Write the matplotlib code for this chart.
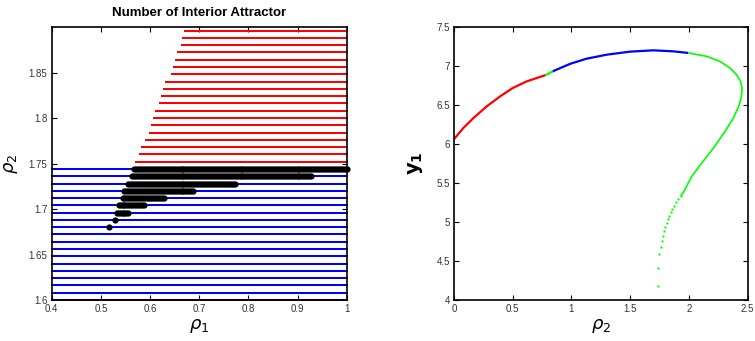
import numpy as np
import matplotlib
matplotlib.use("Agg")
import matplotlib.pyplot as plt

# ---------------- data: left panel (parameter sweep grid) ----------------
rho1_step = 0.004
rho1_min, rho1_max = 0.4, 1.0
# rows of rho2 (blue region: single interior attractor)
blue_rows = [1.600, 1.608, 1.616, 1.624, 1.632, 1.640, 1.648, 1.656, 1.664, 1.672,
             1.680, 1.688, 1.696, 1.704, 1.712, 1.720, 1.728, 1.736, 1.744]
# red region rows and their left boundary in rho1
red_rows = [1.752, 1.760, 1.768, 1.776, 1.784, 1.792, 1.800, 1.808, 1.816, 1.824,
            1.832, 1.840, 1.848, 1.856, 1.864, 1.872, 1.880, 1.888, 1.896]
red_start = [0.572, 0.580, 0.584, 0.592, 0.600, 0.604, 0.608, 0.612, 0.620, 0.624,
             0.628, 0.632, 0.644, 0.648, 0.652, 0.656, 0.664, 0.668, 0.672]
# black region rows (two attractors) with rho1 extents
black_rows = [1.680, 1.688, 1.696, 1.704, 1.712, 1.720, 1.728, 1.736, 1.744]
black_start = [0.516, 0.528, 0.532, 0.536, 0.544, 0.548, 0.556, 0.564, 0.568]
black_end = [0.516, 0.528, 0.556, 0.588, 0.628, 0.688, 0.772, 0.928, 1.000]

# ---------------- data: right panel (bifurcation curve) ----------------
red_x = [0.000, 0.079, 0.165, 0.278, 0.392, 0.499, 0.619, 0.780]
red_y = [6.062, 6.204, 6.332, 6.482, 6.610, 6.717, 6.803, 6.884]
green1_x = [0.780, 0.840]
green1_y = [6.884, 6.931]
blue_x = [0.840, 0.917, 0.993, 1.129, 1.300, 1.498, 1.697, 1.867, 1.995]
blue_y = [6.931, 6.982, 7.030, 7.094, 7.145, 7.184, 7.201, 7.188, 7.167]
green2_x = [1.995, 2.151, 2.264, 2.350, 2.406, 2.440, 2.452, 2.449, 2.429,
            2.378, 2.307, 2.208, 2.108, 2.023, 1.952, 1.930]
green2_y = [7.167, 7.124, 7.059, 6.974, 6.888, 6.803, 6.717, 6.632, 6.503,
            6.332, 6.161, 5.947, 5.754, 5.583, 5.378, 5.335]
green_dots_x = [1.930, 1.910, 1.890, 1.873, 1.859, 1.845, 1.833, 1.822, 1.810,
                1.796, 1.788, 1.776, 1.768, 1.759, 1.748, 1.740, 1.740]
green_dots_y = [5.335, 5.297, 5.254, 5.211, 5.168, 5.125, 5.083, 5.040, 4.993,
                4.941, 4.890, 4.826, 4.762, 4.685, 4.586, 4.415, 4.180]

left_xticks = [0.4, 0.5, 0.6, 0.7, 0.8, 0.9, 1.0]
left_xticklabels = ["0.4", "0.5", "0.6", "0.7", "0.8", "0.9", "1"]
left_yticks = [1.6, 1.65, 1.7, 1.75, 1.8, 1.85]
left_yticklabels = ["1.6", "1.65", "1.7", "1.75", "1.8", "1.85"]
right_xticks = [0, 0.5, 1, 1.5, 2, 2.5]
right_xticklabels = ["0", "0.5", "1", "1.5", "2", "2.5"]
right_yticks = [4, 4.5, 5, 5.5, 6, 6.5, 7, 7.5]
right_yticklabels = ["4", "4.5", "5", "5.5", "6", "6.5", "7", "7.5"]

tick_font = ["Liberation Sans", "DejaVu Sans"]

fig = plt.figure(figsize=(7.55, 3.41), dpi=100)
ax1 = fig.add_axes([0.0685, 0.1202, 0.3907, 0.8006])
ax2 = fig.add_axes([0.6013, 0.1202, 0.3890, 0.8006])


def style(ax):
    for s in ax.spines.values():
        s.set_linewidth(1.2)
        s.set_color("black")
    ax.tick_params(direction="in", length=3.5, width=0.8, top=True, right=True,
                   labelsize=7, pad=3, colors="black")
    for lbl in ax.get_xticklabels() + ax.get_yticklabels():
        lbl.set_family(tick_font)
        lbl.set_color("#333333")


grid_x = np.arange(rho1_min, rho1_max + 1e-9, rho1_step)


def grid_row(xs, y, color):
    ax1.scatter(xs, np.full_like(xs, y), s=0.8, marker="s", c=color,
                linewidths=0, zorder=2, clip_on=False)


# blue rows
for r in blue_rows:
    grid_row(grid_x, r, "#0000ff")
# red rows
for r, st in zip(red_rows, red_start):
    grid_row(grid_x[grid_x >= st - 1e-9], r, "#ff0000")
# black rows
for r, st, en in zip(black_rows, black_start, black_end):
    xs = grid_x[(grid_x >= st - 1e-9) & (grid_x <= en + 1e-9)]
    if len(xs) == 0:
        xs = np.array([st])
    ax1.scatter(xs, np.full_like(xs, r), s=20, marker="o", c="black",
                linewidths=0, zorder=3, clip_on=False)

ax1.set_xlim(0.4, 1.0)
ax1.set_ylim(1.6, 1.9)
ax1.set_xticks(left_xticks)
ax1.set_xticklabels(left_xticklabels)
ax1.set_yticks(left_yticks)
ax1.set_yticklabels(left_yticklabels)
style(ax1)
ax1.set_title("Number of Interior Attractor", fontsize=9.5, fontweight="bold",
              family=["Liberation Sans Narrow", "Liberation Sans", "DejaVu Sans"],
              pad=8)
ax1.set_xlabel(r"$\rho_1$", fontsize=13, labelpad=2)
ax1.set_ylabel(r"$\rho_2$", fontsize=13, labelpad=6)

# right panel
ax2.plot(red_x, red_y, color="#ff0000", lw=1.6, solid_capstyle="butt")
ax2.plot(green1_x, green1_y, color="#00ff00", lw=1.6, solid_capstyle="butt")
ax2.plot(blue_x, blue_y, color="#0000ff", lw=1.6, solid_capstyle="butt")
ax2.plot(green2_x, green2_y, color="#00ff00", lw=1.2, solid_capstyle="butt")
ax2.plot(green_dots_x, green_dots_y, linestyle="none", marker="o", markersize=1.6,
         color="#00ff00", markeredgewidth=0)
ax2.set_xlim(0, 2.5)
ax2.set_ylim(4, 7.5)
ax2.set_xticks(right_xticks)
ax2.set_xticklabels(right_xticklabels)
ax2.set_yticks(right_yticks)
ax2.set_yticklabels(right_yticklabels)
style(ax2)
ax2.set_xlabel(r"$\rho_2$", fontsize=13, labelpad=2)
ax2.set_ylabel(r"$\mathbf{y_1}$", fontsize=14, labelpad=8)

fig.savefig("out.png", dpi=100)
